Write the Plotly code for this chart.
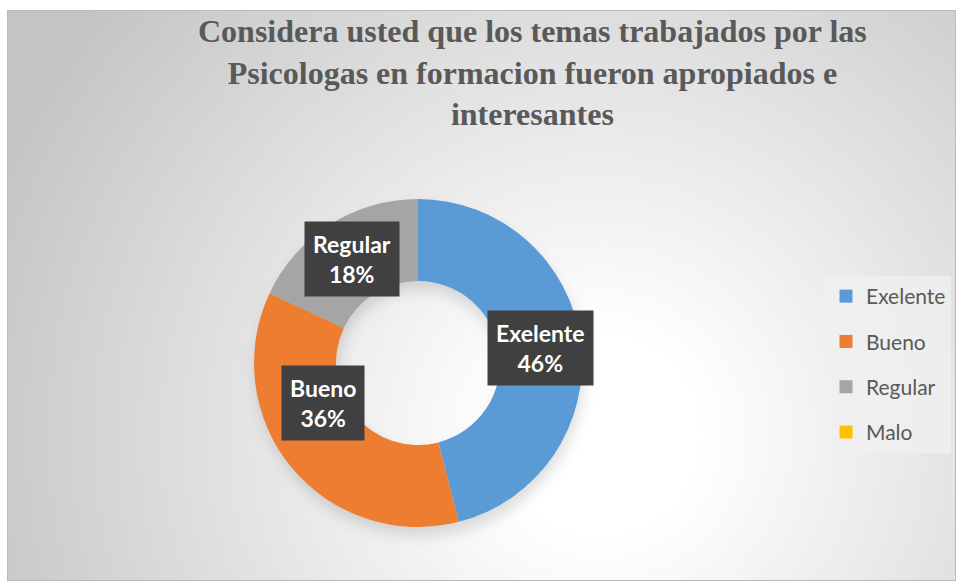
import base64
import math
import plotly.graph_objects as go

# datos del grafico
categorias = ["Exelente", "Bueno", "Regular", "Malo"]
valores = [46, 36, 18, 0]
colores = ["#5B9BD5", "#ED7D31", "#A5A5A5", "#FFC000"]
titulo = ("Considera usted que los temas trabajados por las<br>"
          "Psicologas en formacion fueron apropiados e<br>interesantes")

W, H = 956, 581

# posicion de la dona (pixeles)
cx, cy, R = 418, 363, 164
hole = 0.5

dom_x = [(cx - R) / W, (cx + R) / W]
dom_y = [(H - cy - R) / H, (H - cy + R) / H]

# fondo con degradado radial (como el area del grafico de Excel) + sombra suave de la dona
ox, oy = 7, 10
r_mid = R * (1 + hole) / 2
ancho = R * (1 - hole)
svg = f"""<svg xmlns='http://www.w3.org/2000/svg' width='949' height='571' viewBox='0 0 949 571' preserveAspectRatio='none'>
<defs><radialGradient id='g' gradientUnits='userSpaceOnUse' cx='593' cy='425' r='660'>
<stop offset='0' stop-color='#ffffff'/>
<stop offset='0.15' stop-color='#ffffff'/>
<stop offset='1' stop-color='#c4c4c4'/>
</radialGradient>
<filter id='b' x='-50%' y='-50%' width='200%' height='200%'><feGaussianBlur stdDeviation='7'/></filter></defs>
<rect width='949' height='571' fill='url(#g)'/>
<circle cx='{cx - ox + 2}' cy='{cy - oy + 9}' r='{r_mid}' fill='none' stroke='rgba(0,0,0,0.13)' stroke-width='{ancho}' filter='url(#b)'/>
<rect x='0.5' y='0.5' width='948' height='570' fill='none' stroke='#bababa' stroke-width='1'/>
</svg>"""
fondo = "data:image/svg+xml;base64," + base64.b64encode(svg.encode()).decode()

fig = go.Figure()

fig.add_trace(go.Pie(
    labels=categorias,
    values=valores,
    hole=hole,
    sort=False,
    direction="clockwise",
    rotation=0,
    marker=dict(colors=colores, line=dict(width=0)),
    textinfo="none",
    hoverinfo="label+percent",
    showlegend=False,
    domain=dict(x=dom_x, y=dom_y),
))

# leyenda aparte para poder espaciar los elementos
for i, (cat, col) in enumerate(zip(categorias, colores)):
    fig.add_trace(go.Scatter(
        x=[None], y=[None], mode="markers", name=cat,
        marker=dict(symbol="square", size=13, color=col),
        legendgroup=f"g{i}", showlegend=True,
    ))

# etiquetas de datos con caja oscura, en el centro de cada porcion
total = sum(valores)
acum = 0
for cat, v in zip(categorias, valores):
    if v == 0:
        continue
    mid = (acum + v / 2) / total * 2 * math.pi
    acum += v
    px_ = cx + r_mid * math.sin(mid)
    py_ = cy - r_mid * math.cos(mid)
    fig.add_annotation(
        x=px_ / W, y=1 - py_ / H, xref="paper", yref="paper",
        text=f"{cat}<br>{round(v / total * 100)}%",
        showarrow=False,
        font=dict(family="Lato", size=23, color="white", weight="bold"),
        bgcolor="#404040",
        borderpad=8,
        align="center",
    )

# titulo como anotacion (el titulo de varias lineas se corta arriba)
fig.add_annotation(
    x=532 / W, y=1 - 11 / H, xref="paper", yref="paper",
    xanchor="center", yanchor="top",
    text=titulo, showarrow=False, align="center",
    font=dict(family="Liberation Serif", size=32, color="#595959", weight="bold"),
)

fig.add_layout_image(
    source=fondo, xref="paper", yref="paper",
    x=ox / W, y=1 - oy / H, sizex=1 - ox / W, sizey=1 - oy / H,
    xanchor="left", yanchor="top", sizing="stretch", layer="below",
)

fig.update_layout(
    width=W, height=H,
    margin=dict(l=0, r=0, t=0, b=0),
    paper_bgcolor="white",
    plot_bgcolor="rgba(0,0,0,0)",
    xaxis=dict(visible=False),
    yaxis=dict(visible=False),
    legend=dict(
        x=826 / W, y=1 - 276 / H, xanchor="left", yanchor="top",
        bgcolor="rgba(240,240,240,0.75)",
        font=dict(family="Lato", size=21, color="#595959"),
        tracegroupgap=15,
        itemclick=False,
    ),
)

fig.write_html("out.html", config={"displayModeBar": False},
               post_script="document.body.style.margin='0';")
